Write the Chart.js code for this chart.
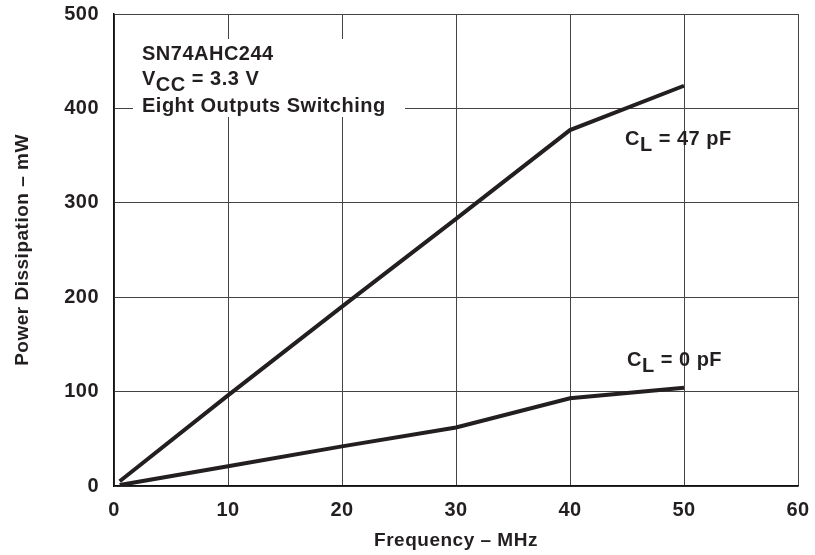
<!DOCTYPE html>
<html>
<head>
<meta charset="utf-8">
<script src="https://cdn.jsdelivr.net/npm/chart.js@4"></script>
<style>
  html, body { margin: 0; padding: 0; background: #fff; }
  #wrap { width: 815px; height: 555px; }
</style>
</head>
<body>
<div id="wrap"><canvas id="power-chart" width="815" height="555"></canvas></div>
<script>
// values
const freq47 = [0.5, 10, 20, 30, 40, 50];
const power47 = [5, 96, 190, 283, 377, 424];
const freq0 = [0.5, 10, 20, 30, 40, 50];
const power0 = [1, 21, 42, 62, 93, 104];

const xTicks = [0, 10, 20, 30, 40, 50, 60];
const yTicks = [0, 100, 200, 300, 400, 500];

const INK = '#231f20';
const FONT = 'Liberation Sans, Arial, Helvetica, sans-serif';

function toPoints(xs, ys) {
    return xs.map((x, i) => ({ x: x, y: ys[i] }));
}

// draws text pieces, some lowered as subscripts
function drawRich(ctx, parts, x, y) {
    let cx = x;
    parts.forEach(p => {
        ctx.fillText(p.t, cx, y + (p.sub ? 6 : 0));
        cx += ctx.measureText(p.t).width;
    });
}

const notes = {
    id: 'notes',
    beforeDraw(chart) {
        chart.ctx.letterSpacing = '0.5px';
    },
    beforeDatasetsDraw(chart) {
        const ctx = chart.ctx;
        ctx.save();
        ctx.fillStyle = '#fff';
        ctx.fillRect(133, 39, 272, 78);
        ctx.restore();
    },
    afterDatasetsDraw(chart) {
        const ctx = chart.ctx;
        ctx.save();
        ctx.fillStyle = INK;
        ctx.font = 'bold 20px ' + FONT;
        ctx.letterSpacing = '0.5px';
        ctx.textAlign = 'left';
        ctx.textBaseline = 'alphabetic';
        drawRich(ctx, [{ t: 'SN74AHC244' }], 142, 60);
        drawRich(ctx, [{ t: 'V' }, { t: 'CC', sub: true }, { t: ' = 3.3 V' }], 142, 85);
        drawRich(ctx, [{ t: 'Eight Outputs Switching' }], 142, 112);
        drawRich(ctx, [{ t: 'C' }, { t: 'L', sub: true }, { t: ' = 47 pF' }], 625, 145);
        drawRich(ctx, [{ t: 'C' }, { t: 'L', sub: true }, { t: ' = 0 pF' }], 627, 366);
        ctx.restore();
    },
    afterDraw(chart) {
        chart.ctx.letterSpacing = '0px';
    }
};

const lineStyle = {
    showLine: true,
    borderColor: INK,
    backgroundColor: INK,
    borderWidth: 4,
    pointRadius: 0,
    fill: false,
    tension: 0
};

const ctx = document.getElementById('power-chart').getContext('2d');
new Chart(ctx, {
    type: 'scatter',
    data: {
        datasets: [
            Object.assign({ label: 'CL = 47 pF', data: toPoints(freq47, power47) }, lineStyle),
            Object.assign({ label: 'CL = 0 pF', data: toPoints(freq0, power0) }, lineStyle)
        ]
    },
    options: {
        responsive: false,
        animation: false,
        layout: { padding: 0 },
        plugins: {
            legend: { display: false },
            tooltip: { enabled: false }
        },
        scales: {
            x: {
                type: 'linear',
                min: 0,
                max: 60,
                afterBuildTicks: s => { s.ticks = xTicks.map(v => ({ value: v })); },
                afterFit: s => {
                    s.height = 69;
                    s.paddingLeft = 0;
                    s.paddingRight = 17;
                },
                ticks: {
                    color: INK,
                    padding: 12,
                    font: { family: FONT, size: 20, weight: 'bold' }
                },
                grid: { color: '#444', lineWidth: 1, drawTicks: false },
                border: { display: true, color: '#111', width: 1.5 },
                title: {
                    display: true,
                    text: 'Frequency – MHz',
                    color: INK,
                    padding: { top: 0, bottom: 3 },
                    font: { family: FONT, size: 19, weight: 'bold' }
                }
            },
            y: {
                min: 0,
                max: 500,
                afterBuildTicks: s => { s.ticks = yTicks.map(v => ({ value: v })); },
                afterFit: s => {
                    s.width = 114;
                    s.paddingTop = 14;
                    s.paddingBottom = 0;
                },
                ticks: {
                    color: INK,
                    padding: 15,
                    font: { family: FONT, size: 20, weight: 'bold' }
                },
                grid: { color: '#444', lineWidth: 1, drawTicks: false },
                border: { display: true, color: '#111', width: 1.5 },
                title: {
                    display: true,
                    text: 'Power Dissipation – mW',
                    color: INK,
                    padding: { top: 11, bottom: 0 },
                    font: { family: FONT, size: 19, weight: 'bold' }
                }
            }
        }
    },
    plugins: [notes]
});
</script>
</body>
</html>
